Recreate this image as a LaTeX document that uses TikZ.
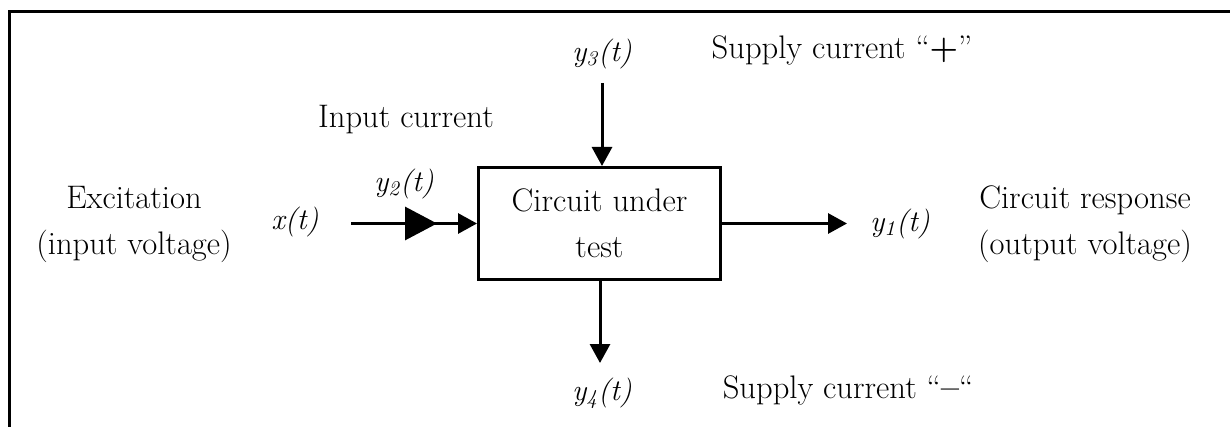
\documentclass[tikz,border=0pt]{standalone}
\usetikzlibrary{arrows.meta,decorations.markings}
\tikzset{
  block/.style={draw, line width=1.5pt, minimum width=121pt, minimum height=56pt, align=center},
  flow/.style={line width=1.5pt, -{Triangle[length=9.5pt,width=10pt]}},
  bigtip/.style={decoration={markings, mark=at position 0.683 with {\arrow{Triangle[length=16pt,width=16.5pt]}}}, postaction={decorate}},
  sig/.style={font=\fontsize{15}{18}\selectfont\itshape},
  every node/.style={font=\fontsize{16.3}{23}\selectfont, align=center}
}
\begin{document}
\begin{tikzpicture}[x=0.5pt, y=-0.5pt]
  \useasboundingbox (0,0) rectangle (1230,427);
  \draw[line width=1.5pt] (9,430) -- (9,12) -- (1232,12);
  \node (dut) [block] at (599.5,223.5) {Circuit under\\test};
  \node (exc) at (134,224) {Excitation\\(input voltage)};
  \node (resp) at (1085,224) {Circuit response\\(output voltage)};
  \node (x) [sig] at (295,222) {x(t)};
  \node (y2) [sig] at (404,184) {y\textsubscript{2}(t)};
  \node (iin) at (406,120) {Input current};
  \node (y3) [sig] at (602,54) {y\textsubscript{3}(t)};
  \node (splus) at (842,50) {Supply current ``\textbf{+}''};
  \node (y1) [sig] at (900,224) {y\textsubscript{1}(t)};
  \node (y4) [sig] at (602,393) {y\textsubscript{4}(t)};
  \node (sminus) at (848,390) {Supply current ``\textbf{--}``};
  \coordinate (xin) at (351,223.5);
  \coordinate (top) at (602,83);
  \coordinate (bot) at (600,363);
  \coordinate (out) at (847,223.5);
  \draw[flow, bigtip] (xin) -- (dut);
  \draw[flow] (top) -- (top |- dut.north);
  \draw[flow] (bot |- dut.south) -- (bot);
  \draw[flow] (dut) -- (out);
\end{tikzpicture}
\end{document}
